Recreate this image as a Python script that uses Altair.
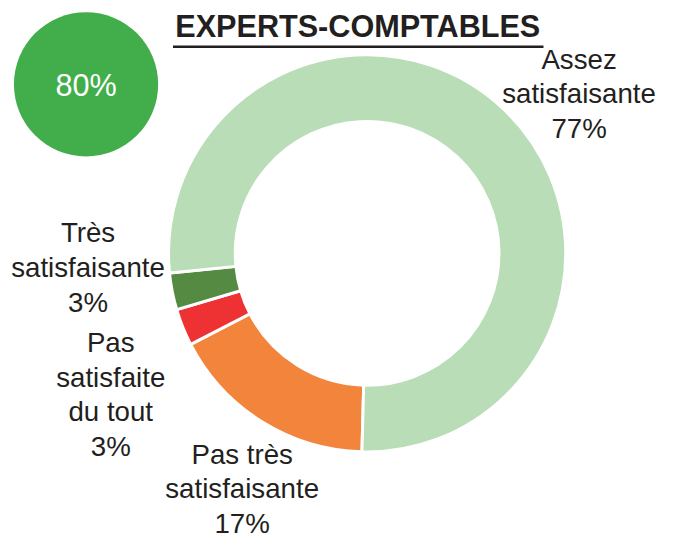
import math
import altair as alt
import pandas as pd

# ---- data ----
TITLE = "EXPERTS-COMPTABLES"
KPI_VALUE = 80
CATEGORIES = ["Pas très satisfaisante", "Pas satisfaite du tout",
              "Très satisfaisante", "Assez satisfaisante"]
VALUES = [17, 3, 3, 77]
LABEL_LINES = [["Pas très", "satisfaisante"],
               ["Pas", "satisfaite", "du tout"],
               ["Très", "satisfaisante"],
               ["Assez", "satisfaisante"]]

# ---- style / layout ----
COLORS = ["#f3843c", "#ee3233", "#548a41", "#b9ddb6"]
KPI_COLOR = "#41ae4b"
TEXT_COLOR = "#231f20"
FONT = "Liberation Sans"
LABEL_X = [237, 104, 81, 578]
LABEL_Y = [458, 345, 234, 58]
CX, CY = 363.5, 245
START = math.radians(181.5)

df = pd.DataFrame({
    "cat": CATEGORIES,
    "value": VALUES,
    "order": list(range(len(CATEGORIES))),
    "label": ["\n".join(l + [f"{v}%"]) for l, v in zip(LABEL_LINES, VALUES)],
    "lx": LABEL_X,
    "ly": LABEL_Y,
})

donut = alt.Chart(df).mark_arc(
    innerRadius=133.5, outerRadius=201, stroke="white", strokeWidth=3
).encode(
    theta=alt.Theta("value:Q", stack=True,
                    scale=alt.Scale(domain=[0, sum(VALUES)], range=[START, START + 2 * math.pi])),
    order=alt.Order("order:Q"),
    color=alt.Color("cat:N", scale=alt.Scale(domain=CATEGORIES, range=COLORS), legend=None),
    x=alt.value(CX),
    y=alt.value(CY),
)

labels = alt.Chart(df).mark_text(
    font=FONT, fontSize=28, lineBreak="\n", lineHeight=35,
    align="center", baseline="alphabetic", color=TEXT_COLOR
).encode(
    x=alt.X("lx:Q", scale=None),
    y=alt.Y("ly:Q", scale=None),
    text="label:N",
)

title_df = pd.DataFrame({"t": [TITLE]})
title = alt.Chart(title_df).mark_text(
    font=FONT, fontSize=31, fontWeight="bold", align="center",
    baseline="alphabetic", color=TEXT_COLOR
).encode(x=alt.value(354), y=alt.value(26), text="t:N")

underline = alt.Chart(title_df).mark_rule(color=TEXT_COLOR, strokeWidth=2.5).encode(
    x=alt.value(167), x2=alt.value(542), y=alt.value(36)
)

kpi_df = pd.DataFrame({"t": [f"{KPI_VALUE}%"]})
kpi_circle = alt.Chart(kpi_df).mark_arc(
    radius=73, theta=0, theta2=2 * math.pi, color=KPI_COLOR
).encode(x=alt.value(79), y=alt.value(74))

kpi_text = alt.Chart(kpi_df).mark_text(
    font=FONT, fontSize=31, align="center", baseline="alphabetic", color="white"
).encode(x=alt.value(79), y=alt.value(86), text="t:N")

chart = alt.layer(donut, labels, title, underline, kpi_circle, kpi_text).properties(
    width=666, height=540,
    autosize=alt.AutoSizeParams(type="none"),
    padding=0,
).configure_view(stroke=None)

chart.save("out.html", embed_options={"renderer": "svg", "actions": False})
